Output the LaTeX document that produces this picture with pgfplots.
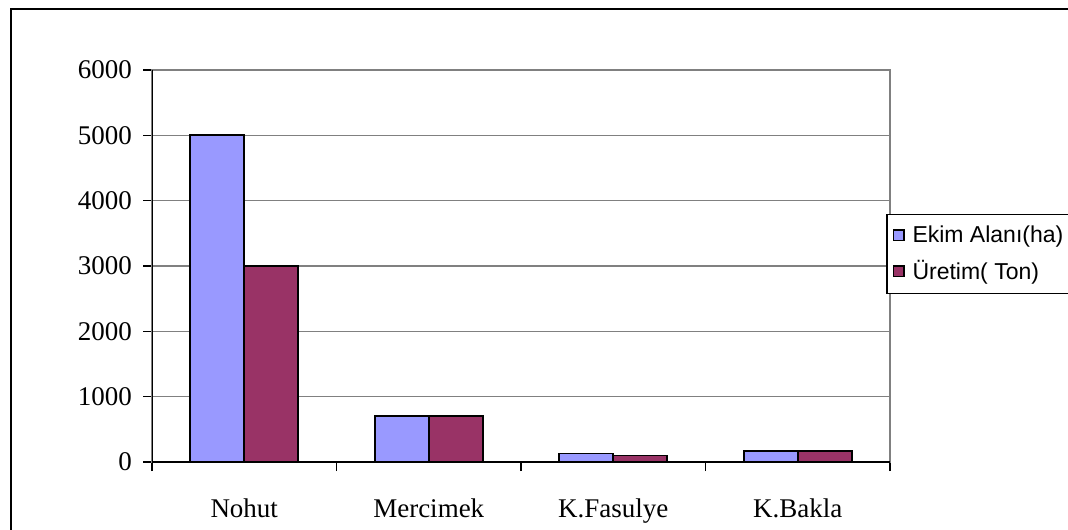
\documentclass[border=0pt]{standalone}
\usepackage{pgfplots}
\pgfplotsset{compat=1.18}
\usepackage{fontspec}
\setmainfont{Liberation Serif}
\newfontfamily\legendfont{Liberation Sans}
\definecolor{ekim}{HTML}{9999FF}
\definecolor{uretim}{HTML}{993366}

\begin{document}
\begin{tikzpicture}
\begin{axis}[
  at={(76pt,33.5pt)}, anchor=south west,
  scale only axis, width=369pt, height=196pt,
  ybar=0pt, bar width=0.293,
  xmin=-0.5, xmax=3.5, ymin=0, ymax=6000,
  xtick={0,1,2,3},
  xticklabels={Nohut,Mercimek,K.Fasulye,K.Bakla},
  minor xtick={-0.5,0.5,1.5,2.5,3.5},
  major x tick style={draw=none},
  ytick={0,1000,...,6000},
  tick pos=left, tick align=outside,
  major tick length=4.5pt, minor tick length=4.5pt,
  tick style={black, line width=0.6pt},
  ymajorgrids, grid style={gray, line width=0.6pt},
  axis line style={gray, line width=0.6pt},
  ticklabel style={font=\fontsize{13.5}{15}\selectfont},
  /pgf/number format/assume math mode=true,
  scaled y ticks=false,
  yticklabel style={/pgf/number format/1000 sep={}, xshift=-2pt},
  xticklabel style={yshift=-10.5pt},
  legend style={at={(0.995,0.633)}, anchor=north west,
    font=\legendfont\fontsize{11.5}{13}\selectfont,
    draw=black, line width=0.6pt, inner xsep=3pt, inner ysep=3.5pt,
    row sep=3.5pt, cells={anchor=west}},
  legend image code/.code={%
    \draw[#1, draw=black, line width=0.7pt] (1.5pt,-2.6pt) rectangle (6.7pt,2.6pt);
    \path (8.5pt,0pt);},
]
\addplot[fill=ekim, draw=black, line width=0.9pt] coordinates {(0,5000) (1,700) (2,130) (3,165)};
\addplot[fill=uretim, draw=black, line width=0.9pt] coordinates {(0,3000) (1,700) (2,100) (3,165)};
\legend{Ekim Alanı(ha), Üretim( Ton)}
\draw[black, line width=0.6pt] (rel axis cs:0,1) -- (rel axis cs:0,0) -- (rel axis cs:1,0);
\end{axis}
\draw[line width=1.1pt] (5.5pt,-5pt) -- (5.5pt,260pt) -- (560pt,260pt);
\pgfresetboundingbox
\useasboundingbox (0,0) rectangle (534pt,264.5pt);
\end{tikzpicture}
\end{document}
